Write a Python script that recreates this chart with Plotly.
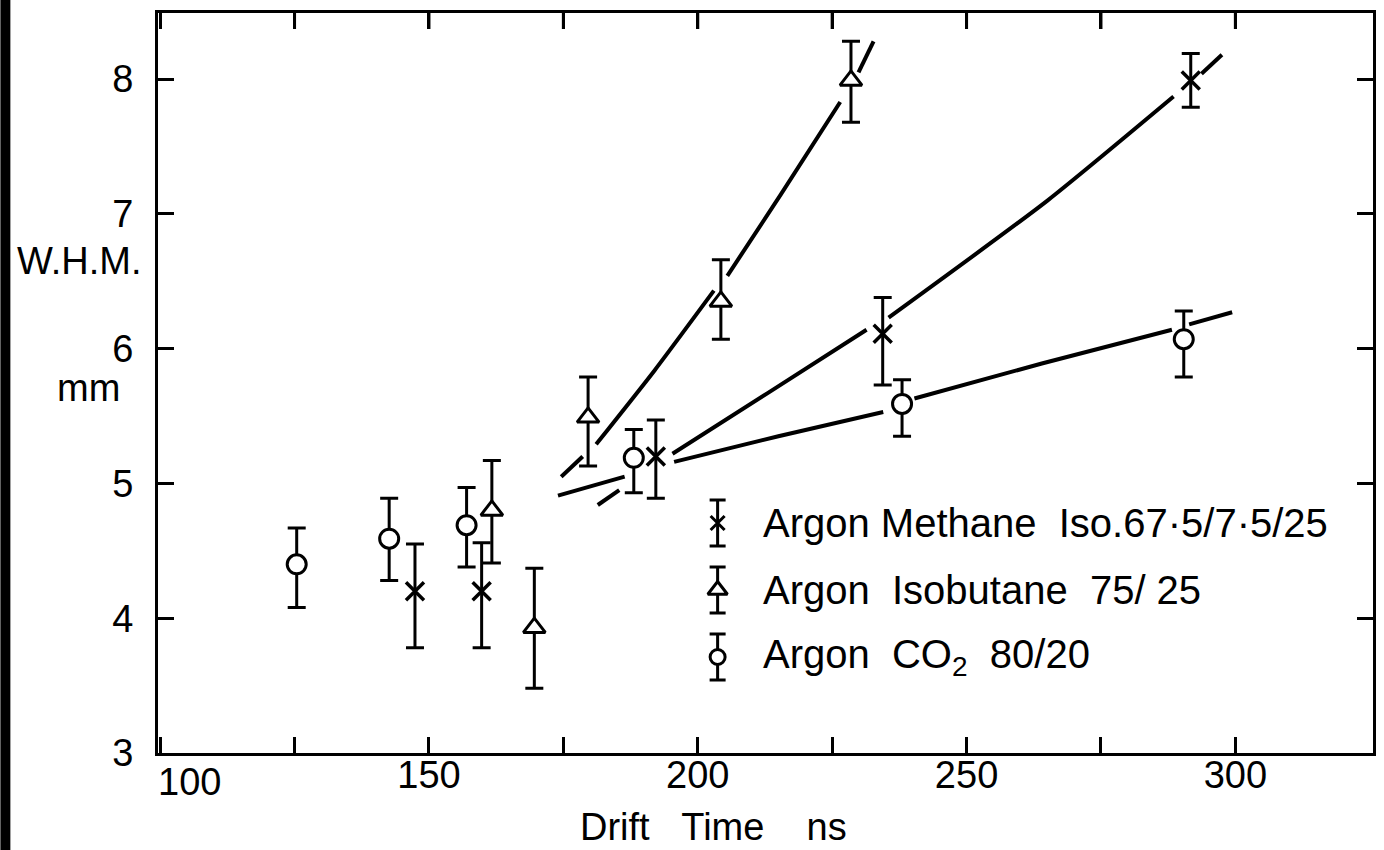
import plotly.graph_objects as go

# ---------------- data ----------------
# Argon Methane Isobutane 67.5/7.5/25  (x markers)
meth_x = [147.4, 159.8, 192.2, 234.4, 291.7]
meth_y = [4.20, 4.20, 5.20, 6.11, 7.99]
meth_ep = [0.35, 0.36, 0.27, 0.27, 0.20]
meth_em = [0.42, 0.42, 0.31, 0.38, 0.20]

# Argon Isobutane 75/25  (triangles)
iso_x = [161.7, 169.6, 179.6, 204.3, 228.5]
iso_y = [4.80, 3.93, 5.49, 6.35, 7.99]
iso_ep = [0.37, 0.44, 0.30, 0.31, 0.29]
iso_em = [0.39, 0.45, 0.36, 0.28, 0.31]

# Argon CO2 80/20  (circles)
co2_x = [125.4, 142.6, 157.0, 188.1, 238.0, 290.4]
co2_y = [4.40, 4.59, 4.69, 5.19, 5.59, 6.07]
co2_ep = [0.27, 0.30, 0.28, 0.21, 0.18, 0.21]
co2_em = [0.32, 0.31, 0.31, 0.26, 0.24, 0.28]

# hand-drawn fit curves (broken around the markers)
iso_fit_x = [174.6, 178.6, None, 181.1, 192.0, 203.0, None, 205.5, 215.4, 226.5, None, 229.9, 232.7]
iso_fit_y = [5.05, 5.20, None, 5.29, 5.84, 6.43, None, 6.54, 7.14, 7.83, None, 8.05, 8.28]
meth_fit_x = [181.4, 185.4, None, 195.3, 213.0, 231.4, None, 235.5, 265.1, 288.5, None, 293.7, 297.5]
meth_fit_y = [4.84, 4.95, None, 5.22, 5.67, 6.14, None, 6.23, 7.10, 7.87, None, 8.04, 8.18]
co2_fit_x = [174.0, 186.4, None, 195.6, 215.0, 234.5, None, 240.3, 264.0, 288.2, None, 291.4, 299.4]
co2_fit_y = [4.91, 5.05, None, 5.16, 5.35, 5.53, None, 5.63, 5.89, 6.14, None, 6.18, 6.27]

x_label_vals = [150, 200, 250, 300]
x_label_text = ["150", "200", "250", "300"]
x_first_label = "100"
x_all_ticks = [100, 125, 150, 175, 200, 225, 250, 275, 300]
y_tickvals = [3, 4, 5, 6, 7, 8]
y_ticktext = ["3", "4", "5", "6", "7", "8"]

legend_names = ["Argon Methane  Iso.67\u00b75/7\u00b75/25",
                "Argon  Isobutane  75/ 25",
                "Argon  CO<sub>2</sub>  80/20"]

# ---------------- layout constants ----------------
W, H = 1384, 850
L, R, T, B = 158, 8, 13, 97
PW, PH = W - L - R, H - T - B
FONT = "Liberation Sans, Arial, Helvetica, sans-serif"
X_RANGE = [99.6, 325.6]
Y_RANGE = [3.0, 8.49]
TICKLEN = 16


def px_x(px):
    return (px - L) / PW


def px_y(py):
    return (H - B - py) / PH


fig = go.Figure()

LW = 4
for fx, fy in [(iso_fit_x, iso_fit_y), (meth_fit_x, meth_fit_y), (co2_fit_x, co2_fit_y)]:
    fig.add_trace(go.Scatter(x=fx, y=fy, mode="lines", connectgaps=False,
                             line=dict(color="black", width=LW, shape="spline", smoothing=0.6),
                             hoverinfo="skip", showlegend=False))

# inward ticks along the upper frame (one short vertical stroke per x tick value)
y_span = Y_RANGE[1] - Y_RANGE[0]
top_y0 = Y_RANGE[1]
top_y1 = Y_RANGE[1] - TICKLEN / PH * y_span
top_tx, top_ty = [], []
for v in x_all_ticks[1:]:
    top_tx += [v, v, None]
    top_ty += [top_y0, top_y1, None]
fig.add_trace(go.Scatter(x=top_tx, y=top_ty, mode="lines", connectgaps=False,
                         line=dict(color="black", width=3), cliponaxis=False,
                         hoverinfo="skip", showlegend=False))


def err(p, m, w=9):
    return dict(type="data", symmetric=False, array=p, arrayminus=m,
                color="black", thickness=3, width=w)


fig.add_trace(go.Scatter(x=meth_x, y=meth_y, mode="markers", error_y=err(meth_ep, meth_em),
                         marker=dict(symbol="x-thin", size=18, color="black",
                                     line=dict(color="black", width=3.5)),
                         showlegend=False))
fig.add_trace(go.Scatter(x=iso_x, y=iso_y, mode="markers", error_y=err(iso_ep, iso_em),
                         marker=dict(symbol="triangle-up", size=19, color="white",
                                     line=dict(color="black", width=3)),
                         showlegend=False))
fig.add_trace(go.Scatter(x=co2_x, y=co2_y, mode="markers", error_y=err(co2_ep, co2_em),
                         marker=dict(symbol="circle", size=19, color="white",
                                     line=dict(color="black", width=3)),
                         showlegend=False))

# ---- hand-made legend (symbols with error bars) on an overlay 0..1 axis ----
leg_sym_x = px_x(719)
leg_rows_px = [523, 590, 657]
leg_text_x = px_x(762)
leg_err = 23 / PH
leg_markers = [
    dict(symbol="x-thin", size=14, color="black", line=dict(color="black", width=3)),
    dict(symbol="triangle-up", size=17, color="white", line=dict(color="black", width=3)),
    dict(symbol="circle", size=15, color="white", line=dict(color="black", width=3)),
]
for row_px, mk in zip(leg_rows_px, leg_markers):
    fig.add_trace(go.Scatter(x=[leg_sym_x], y=[px_y(row_px)], xaxis="x2", yaxis="y2",
                             mode="markers", marker=mk,
                             error_y=dict(type="constant", value=leg_err, color="black",
                                          thickness=3, width=8),
                             showlegend=False, hoverinfo="skip"))

annotations = []
for row_px, name in zip(leg_rows_px, legend_names):
    annotations.append(dict(x=leg_text_x, y=px_y(row_px), xref="paper", yref="paper",
                            text=name, showarrow=False, xanchor="left", yanchor="middle",
                            font=dict(family=FONT, size=40, color="black")))

annotations.append(dict(x=px_x(79), y=px_y(261), xref="paper", yref="paper", text="W.H.M.",
                        showarrow=False, xanchor="center", yanchor="middle",
                        font=dict(family=FONT, size=38, color="black")))
annotations.append(dict(x=px_x(88), y=px_y(388), xref="paper", yref="paper", text="mm",
                        showarrow=False, xanchor="center", yanchor="middle",
                        font=dict(family=FONT, size=38, color="black")))
annotations.append(dict(x=px_x(715), y=px_y(827), xref="paper", yref="paper",
                        text="Drift\u00a0\u00a0\u00a0Time\u00a0\u00a0\u00a0\u00a0ns",
                        showarrow=False, xanchor="center", yanchor="middle",
                        font=dict(family=FONT, size=38, color="black")))
# first x tick label sits to the right of the axis corner, as in the original
annotations.append(dict(x=px_x(190), y=px_y(782), xref="paper", yref="paper",
                        text=x_first_label, showarrow=False, xanchor="center",
                        yanchor="middle", font=dict(family=FONT, size=38, color="black")))

# dark scanner edge on the far left of the page
shapes = [dict(type="rect", xref="paper", yref="paper",
               x0=px_x(0), x1=px_x(10), y0=px_y(850), y1=px_y(0),
               fillcolor="black", line=dict(width=0), layer="above")]

axis_common = dict(showgrid=False, zeroline=False, showline=True, linecolor="black",
                   linewidth=3, ticks="inside", ticklen=TICKLEN, tickwidth=3,
                   tickcolor="black", mirror="ticks",
                   tickfont=dict(family=FONT, size=38, color="black"))

fig.update_layout(
    width=W, height=H,
    margin=dict(l=L, r=R, t=T, b=B, pad=0),
    paper_bgcolor="white", plot_bgcolor="white",
    xaxis=dict(range=X_RANGE, tickmode="array", tickvals=x_label_vals,
               ticktext=x_label_text, ticklabelstandoff=-14,
               minor=dict(tickmode="array", tickvals=x_all_ticks, ticks="inside",
                          ticklen=TICKLEN, tickwidth=3, tickcolor="black", showgrid=False),
               **axis_common),
    yaxis=dict(range=Y_RANGE, tickmode="array", tickvals=y_tickvals,
               ticktext=y_ticktext, ticklabelstandoff=14, **axis_common),
    xaxis2=dict(overlaying="x", range=[0, 1], visible=False),
    yaxis2=dict(overlaying="y", range=[0, 1], visible=False),
    annotations=annotations,
    shapes=shapes,
    showlegend=False,
)

fig.write_html("out.html", config={"displayModeBar": False},
               post_script="document.body.style.margin='0px';"
                           "document.body.style.overflow='hidden';")
